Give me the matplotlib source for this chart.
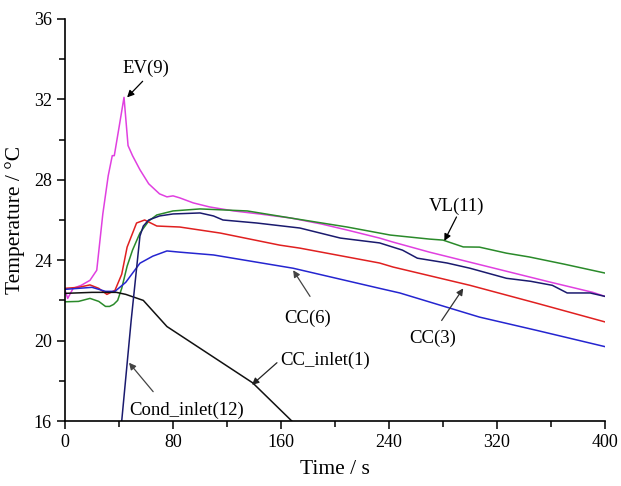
import numpy as np
import matplotlib
matplotlib.use("Agg")
import matplotlib.pyplot as plt
from matplotlib.ticker import MultipleLocator

plt.rcParams['font.family'] = ['Liberation Serif', 'DejaVu Serif']

# EV(9) - magenta
ev_t = [0, 2, 6, 12, 18.5, 23.5, 28, 32, 35, 36.5, 40, 43.7, 46.7, 50, 55.5, 62, 70, 75.5, 80, 85, 95, 107, 125, 144, 167, 190, 209, 233, 243, 270, 300, 330, 360, 391, 400]
ev_T = [22.5, 22.1, 22.6, 22.75, 23.0, 23.5, 26.3, 28.2, 29.2, 29.2, 30.6, 32.1, 29.7, 29.2, 28.5, 27.8, 27.3, 27.15, 27.2, 27.1, 26.85, 26.65, 26.45, 26.3, 26.1, 25.8, 25.5, 25.1, 24.9, 24.4, 23.9, 23.4, 22.9, 22.4, 22.2]

# VL(11) - green
vl_t = [0, 10, 18.5, 25, 30, 33, 36, 39, 42, 46, 50, 55.5, 62, 68, 80, 100, 135, 167, 209, 241, 270, 280, 295, 307, 327, 344, 370, 400]
vl_T = [21.93, 21.95, 22.1, 21.95, 21.7, 21.7, 21.8, 22.0, 22.6, 23.7, 24.5, 25.35, 25.95, 26.25, 26.45, 26.55, 26.45, 26.1, 25.65, 25.25, 25.05, 25.0, 24.66, 24.65, 24.35, 24.16, 23.8, 23.36]

# Cond_inlet(12) - navy
cond_t = [38, 42, 49, 55.5, 58, 62, 70, 80, 100, 110, 117, 142, 174, 204, 233, 250, 261, 283, 300, 327, 345, 361, 372, 389, 400]
cond_T = [13.3, 16.0, 21.0, 25.2, 25.7, 26.0, 26.2, 26.3, 26.35, 26.2, 26.0, 25.85, 25.6, 25.1, 24.86, 24.5, 24.1, 23.86, 23.6, 23.1, 22.95, 22.75, 22.37, 22.37, 22.2]

# CC(3) - red
cc3_t = [0, 10, 18.5, 25, 31, 37, 42, 46, 53, 59, 68, 85, 115, 159, 174, 233, 243, 300, 350, 400]
cc3_T = [22.6, 22.65, 22.77, 22.6, 22.3, 22.5, 23.3, 24.65, 25.85, 26.0, 25.7, 25.65, 25.35, 24.75, 24.6, 23.86, 23.66, 22.75, 21.85, 20.93]

# CC(6) - blue
cc6_t = [0, 10, 20, 30, 37, 45, 55.5, 65, 75.5, 85, 110, 169, 233, 248, 307, 350, 400]
cc6_T = [22.55, 22.6, 22.65, 22.45, 22.45, 22.9, 23.85, 24.2, 24.46, 24.4, 24.26, 23.6, 22.6, 22.37, 21.17, 20.5, 19.7]

# CC_inlet(1) - black
ccin_t = [0, 20, 38, 45, 58, 75.5, 139, 168, 180]
ccin_T = [22.35, 22.4, 22.4, 22.3, 22.0, 20.7, 17.9, 16.0, 15.3]

# annotation labels
labels = ['EV(9)', 'VL(11)', 'CC(6)', 'CC(3)', 'CC_inlet(1)', 'Cond_inlet(12)']

fig = plt.figure(figsize=(6.21, 4.86), dpi=100)
ax = fig.add_axes([0.1047, 0.1337, 0.8695, 0.8273])

ax.plot(ev_t, ev_T, color='#e040e0', lw=1.1)
ax.plot(vl_t, vl_T, color='#2a8a2a', lw=1.1)
ax.plot(cc3_t, cc3_T, color='#e02020', lw=1.1)
ax.plot(cc6_t, cc6_T, color='#2525d0', lw=1.1)
ax.plot(ccin_t, ccin_T, color='#111111', lw=1.1)
ax.plot(cond_t, cond_T, color='#1a1a6e', lw=1.1)

ax.set_xlim(0, 400)
ax.set_ylim(16, 36)
ax.xaxis.set_major_locator(MultipleLocator(80))
ax.xaxis.set_minor_locator(MultipleLocator(40))
ax.yaxis.set_major_locator(MultipleLocator(4))
ax.yaxis.set_minor_locator(MultipleLocator(2))
ax.spines['top'].set_visible(False)
ax.spines['right'].set_visible(False)
for s in ['left', 'bottom']:
    ax.spines[s].set_linewidth(1.2)
ax.tick_params(which='major', direction='out', length=6, width=1.1, labelsize=13)
ax.tick_params(which='minor', direction='out', length=4, width=1.1)

ax.set_xlabel('Time / s', fontsize=15.5, labelpad=6)
ax.set_ylabel('Temperature / °C', fontsize=15.5, labelpad=6)

def ann(text, text_xy, tail, head, color='#222222'):
    ax.text(text_xy[0], text_xy[1], text, fontsize=13.5, ha='center', va='center')
    ax.annotate('', xy=head, xytext=tail,
                arrowprops=dict(arrowstyle='-|>', color=color, lw=0.9,
                                mutation_scale=10, shrinkA=0, shrinkB=0))

ann(labels[0], (60, 33.55), (57.5, 32.9), (46, 32.1), color='black')
ann(labels[1], (290, 26.7), (290, 26.15), (281, 24.96), color='black')
ann(labels[2], (180, 21.1), (181.5, 22.2), (169, 23.5), color='#444444')
ann(labels[3], (272, 20.1), (279, 21.0), (295, 22.6), color='#333333')
ann(labels[4], (193, 19.03), (157, 18.9), (138.5, 17.8), color='#222222')
ann(labels[5], (90.4, 16.55), (65.3, 17.46), (47.4, 18.9), color='#444444')

fig.savefig('out.png', dpi=100)
